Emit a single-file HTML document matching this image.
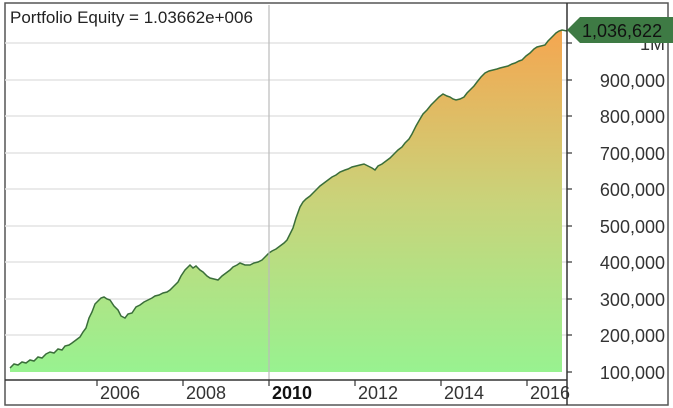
<!DOCTYPE html><html><head><style>body{margin:0;background:#fff}svg{display:block;font-family:"Liberation Sans",sans-serif}</style></head><body>
<svg width="673" height="408" viewBox="0 0 673 408">
<defs><linearGradient id="g" x1="0" y1="30" x2="0" y2="372" gradientUnits="userSpaceOnUse"><stop offset="0" stop-color="#f5a650"/><stop offset="0.5" stop-color="#c9d37a"/><stop offset="1" stop-color="#98f290"/></linearGradient></defs>
<rect x="5" y="3" width="663" height="402" fill="#fff" stroke="#555" stroke-width="1.5"/>
<g stroke="#e4e4e4" stroke-width="1.5">
<line x1="5" x2="567" y1="43" y2="43"/><line x1="5" x2="567" y1="80" y2="80"/><line x1="5" x2="567" y1="116" y2="116"/><line x1="5" x2="567" y1="153" y2="153"/><line x1="5" x2="567" y1="189" y2="189"/><line x1="5" x2="567" y1="226" y2="226"/><line x1="5" x2="567" y1="262" y2="262"/><line x1="5" x2="567" y1="299" y2="299"/><line x1="5" x2="567" y1="335" y2="335"/></g>
<path d="M10,368 L14,364 18,365 22,362 26,363 30,360 34,361 38,357 42,358 46,354 50,352 54,353 58,349 62,350 65,346 69,345 72,343 76,340 80,337 83,332 86,328 89,318 92,312 95,304 97,302 101,298 104,297 107,299 110,300 114,306 118,310 121,316 125,318 128,314 132,313 136,307 140,305 144,302 148,300 152,298 155,296 159,295 163,293 167,292 170,290 174,286 178,282 181,276 185,270 188,267 190,265 193,268 196,266 200,270 203,272 207,276 210,278 214,279 218,280 222,276 226,273 230,270 233,267 237,265 240,263 245,265 250,265 254,263 258,262 262,260 266,256 269,253 272,251 276,249 280,246 284,243 287,240 290,234 293,228 296,218 300,207 303,202 306,199 310,196 313,193 317,189 320,186 324,183 328,180 332,177 336,175 340,172 345,170 348,169 352,167 356,166 360,165 364,164 368,166 372,168 375,170 378,166 382,164 386,161 390,158 394,154 398,150 402,147 405,143 409,139 412,134 416,126 420,119 423,114 427,110 431,105 435,101 439,97 443,94 447,96 450,97 453,99 456,100 460,99 464,97 467,93 470,90 474,86 477,82 481,77 485,73 489,71 493,70 497,69 500,68 504,67 508,66 512,64 515,63 519,61 522,60 526,56 530,53 534,49 537,47 541,46 545,45 548,41 551,38 554,35 556,33 559,31 562,30 L562,372 L10,372 Z" fill="url(#g)"/>
<polyline points="10,368 14,364 18,365 22,362 26,363 30,360 34,361 38,357 42,358 46,354 50,352 54,353 58,349 62,350 65,346 69,345 72,343 76,340 80,337 83,332 86,328 89,318 92,312 95,304 97,302 101,298 104,297 107,299 110,300 114,306 118,310 121,316 125,318 128,314 132,313 136,307 140,305 144,302 148,300 152,298 155,296 159,295 163,293 167,292 170,290 174,286 178,282 181,276 185,270 188,267 190,265 193,268 196,266 200,270 203,272 207,276 210,278 214,279 218,280 222,276 226,273 230,270 233,267 237,265 240,263 245,265 250,265 254,263 258,262 262,260 266,256 269,253 272,251 276,249 280,246 284,243 287,240 290,234 293,228 296,218 300,207 303,202 306,199 310,196 313,193 317,189 320,186 324,183 328,180 332,177 336,175 340,172 345,170 348,169 352,167 356,166 360,165 364,164 368,166 372,168 375,170 378,166 382,164 386,161 390,158 394,154 398,150 402,147 405,143 409,139 412,134 416,126 420,119 423,114 427,110 431,105 435,101 439,97 443,94 447,96 450,97 453,99 456,100 460,99 464,97 467,93 470,90 474,86 477,82 481,77 485,73 489,71 493,70 497,69 500,68 504,67 508,66 512,64 515,63 519,61 522,60 526,56 530,53 534,49 537,47 541,46 545,45 548,41 551,38 554,35 556,33 559,31 562,30 567,31" fill="none" stroke="#3a6e3a" stroke-width="1.5"/>
<line x1="269" y1="5" x2="269" y2="380" stroke="#bbb" stroke-width="1.2"/>
<line x1="567" y1="3" x2="567" y2="405" stroke="#333" stroke-width="1.5"/>
<line x1="5" y1="380" x2="567" y2="380" stroke="#333" stroke-width="1.5"/>
<g stroke="#333" stroke-width="1.2"><line x1="97" x2="97" y1="380" y2="386"/><line x1="183" x2="183" y1="380" y2="386"/><line x1="269" x2="269" y1="380" y2="386"/><line x1="355" x2="355" y1="380" y2="386"/><line x1="441" x2="441" y1="380" y2="386"/><line x1="527" x2="527" y1="380" y2="386"/>
<line x1="567" x2="572" y1="43" y2="43"/><line x1="567" x2="572" y1="80" y2="80"/><line x1="567" x2="572" y1="116" y2="116"/><line x1="567" x2="572" y1="153" y2="153"/><line x1="567" x2="572" y1="189" y2="189"/><line x1="567" x2="572" y1="226" y2="226"/><line x1="567" x2="572" y1="262" y2="262"/><line x1="567" x2="572" y1="299" y2="299"/><line x1="567" x2="572" y1="335" y2="335"/><line x1="567" x2="572" y1="372" y2="372"/></g>
<g font-size="18" fill="#333" text-anchor="end">
<text x="665" y="50">1M</text><text x="665" y="87">900,000</text><text x="665" y="123">800,000</text><text x="665" y="160">700,000</text><text x="665" y="196">600,000</text><text x="665" y="233">500,000</text><text x="665" y="269">400,000</text><text x="665" y="306">300,000</text><text x="665" y="342">200,000</text><text x="665" y="379">100,000</text></g>
<path d="M567,30 L580,17 L673,17 L673,43 L580,43 Z" fill="#3e7a44"/>
<text x="582" y="37" font-size="18" fill="#111">1,036,622</text>
<g font-size="18" fill="#333"><text x="100" y="399">2006</text><text x="186" y="399">2008</text><text x="272" y="399" font-weight="bold" fill="#111">2010</text><text x="358" y="399">2012</text><text x="444" y="399">2014</text><text x="530" y="399">2016</text></g>
<text x="10" y="23" font-size="17" fill="#222">Portfolio Equity = 1.03662e+006</text>
</svg></body></html>
